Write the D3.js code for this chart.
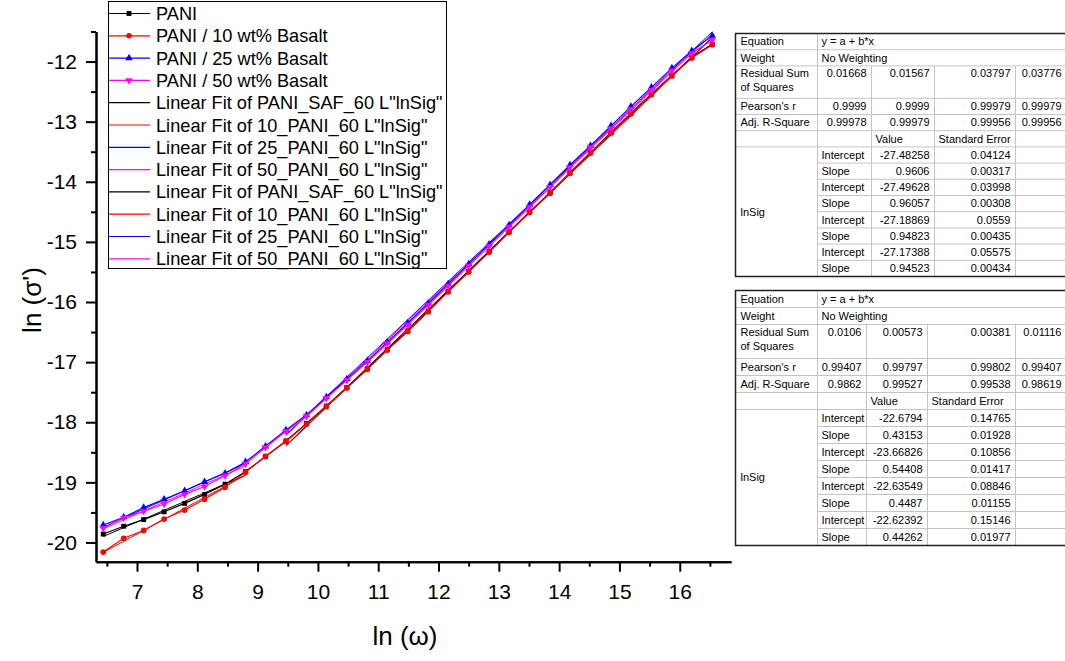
<!DOCTYPE html>
<html>
<head>
<meta charset="utf-8">
<script src="https://cdn.jsdelivr.net/npm/d3@7"></script>
<style>
  body { margin: 0; background: #fff; }
  svg { font-family: "Liberation Sans", Arial, sans-serif; display: block; }
</style>
</head>
<body>
<div id="dataviz"></div>
<script>
// ln(omega) of every measured point
const lnOmega = [6.44, 6.78, 7.11, 7.45, 7.79, 8.12, 8.46, 8.80, 9.13, 9.47, 9.81, 10.14, 10.48, 10.82, 11.15,
  11.49, 11.83, 12.16, 12.50, 12.84, 13.17, 13.51, 13.85, 14.18, 14.52, 14.86, 15.19, 15.53, 15.87, 16.20, 16.54];

// ln(sigma') per sample
const pani = [-19.86, -19.73, -19.62, -19.49, -19.35, -19.20, -19.03, -18.82, -18.57, -18.31, -18.02, -17.73, -17.42,
  -17.11, -16.79, -16.48, -16.15, -15.82, -15.49, -15.16, -14.83, -14.50, -14.18, -13.85, -13.51, -13.18, -12.86,
  -12.54, -12.23, -11.93, -11.71];
const basalt10 = [-20.16, -19.93, -19.80, -19.61, -19.46, -19.28, -19.08, -18.83, -18.57, -18.32, -18.03, -17.74, -17.43,
  -17.12, -16.80, -16.49, -16.16, -15.83, -15.50, -15.17, -14.84, -14.51, -14.19, -13.86, -13.52, -13.19, -12.87,
  -12.55, -12.24, -11.94, -11.72];
const basalt25 = [-19.71, -19.58, -19.42, -19.28, -19.14, -18.99, -18.85, -18.66, -18.40, -18.13, -17.88, -17.58, -17.28,
  -16.98, -16.67, -16.35, -16.02, -15.70, -15.37, -15.04, -14.72, -14.38, -14.05, -13.72, -13.40, -13.07, -12.75,
  -12.43, -12.11, -11.82, -11.57];
const basalt50 = [-19.76, -19.59, -19.48, -19.36, -19.20, -19.07, -18.89, -18.69, -18.42, -18.15, -17.90, -17.60, -17.30,
  -17.00, -16.69, -16.38, -16.05, -15.73, -15.40, -15.07, -14.75, -14.42, -14.09, -13.76, -13.43, -13.11, -12.79,
  -12.47, -12.15, -11.86, -11.64];

const seriesNames = ["PANI", "PANI / 10 wt% Basalt", "PANI / 25 wt% Basalt", "PANI / 50 wt% Basalt"];
const fitNames = ['Linear Fit of PANI_SAF_60 L"lnSig"', 'Linear Fit of 10_PANI_60 L"lnSig"',
  'Linear Fit of 25_PANI_60 L"lnSig"', 'Linear Fit of 50_PANI_60 L"lnSig"'];

const xTicks = [7, 8, 9, 10, 11, 12, 13, 14, 15, 16];
const xMinor = [6.5, 7.5, 8.5, 9.5, 10.5, 11.5, 12.5, 13.5, 14.5, 15.5, 16.5];
const yTicks = [-20, -19, -18, -17, -16, -15, -14, -13, -12];
const yMinor = [-19.5, -18.5, -17.5, -16.5, -15.5, -14.5, -13.5, -12.5, -11.5];

// fit tables (high frequency fit first, low frequency fit second)
const hiResidual = ["0.01668", "0.01567", "0.03797", "0.03776"];
const hiPearson = ["0.9999", "0.9999", "0.99979", "0.99979"];
const hiAdjR = ["0.99978", "0.99979", "0.99956", "0.99956"];
const hiIntercept = ["-27.48258", "-27.49628", "-27.18869", "-27.17388"];
const hiInterceptErr = ["0.04124", "0.03998", "0.0559", "0.05575"];
const hiSlope = ["0.9606", "0.96057", "0.94823", "0.94523"];
const hiSlopeErr = ["0.00317", "0.00308", "0.00435", "0.00434"];
const hiRange = [9.47, 16.54];

const loResidual = ["0.0106", "0.00573", "0.00381", "0.01116"];
const loPearson = ["0.99407", "0.99797", "0.99802", "0.99407"];
const loAdjR = ["0.9862", "0.99527", "0.99538", "0.98619"];
const loIntercept = ["-22.6794", "-23.66826", "-22.63549", "-22.62392"];
const loInterceptErr = ["0.14765", "0.10856", "0.08846", "0.15146"];
const loSlope = ["0.43153", "0.54408", "0.4487", "0.44262"];
const loSlopeErr = ["0.01928", "0.01417", "0.01155", "0.01977"];
const loRange = [6.44, 8.80];

const colors = ["#000000", "#ff0000", "#0000ff", "#ff00ff"];
const symbols = [d3.symbolSquare, d3.symbolCircle, d3.symbolTriangle, d3.symbolTriangle];

var width = 1065, height = 661;

var svg = d3.select("#dataviz")
  .append("svg")
    .attr("width", width)
    .attr("height", height);

var x = d3.scaleLinear().domain([6.32, 16.85]).range([96, 731]);
var y = d3.scaleLinear().domain([-20.32, -11.5]).range([561.7, 31.5]);

// axes
function styleAxis(g) {
  g.select(".domain").attr("stroke", "#000").attr("stroke-width", 2);
  g.selectAll(".tick line").attr("stroke", "#000").attr("stroke-width", 2);
  g.selectAll(".tick text").attr("fill", "#000").style("font-size", "21px")
    .style("font-family", '"Liberation Sans", Arial, sans-serif');
}

svg.append("g")
  .attr("transform", "translate(0," + y.range()[0] + ")")
  .call(d3.axisBottom(x).tickValues(xMinor).tickSize(5).tickSizeOuter(0).tickFormat(""))
  .call(styleAxis);
svg.append("g")
  .attr("transform", "translate(0," + y.range()[0] + ")")
  .call(d3.axisBottom(x).tickValues(xTicks).tickSize(10).tickSizeOuter(0).tickPadding(12).tickFormat(d3.format("d")))
  .call(styleAxis);

svg.append("g")
  .attr("transform", "translate(" + x.range()[0] + ",0)")
  .call(d3.axisLeft(y).tickValues(yMinor).tickSize(5).tickSizeOuter(0).tickFormat(""))
  .call(styleAxis);
svg.append("g")
  .attr("transform", "translate(" + x.range()[0] + ",0)")
  .call(d3.axisLeft(y).tickValues(yTicks).tickSize(10).tickSizeOuter(0).tickPadding(9)
    .tickFormat(function(d) { return d < 0 ? "-" + Math.abs(d) : d; }))
  .call(styleAxis);

svg.append("text")
  .attr("x", 405)
  .attr("y", 645)
  .attr("text-anchor", "middle")
  .style("font-size", "26px")
  .text("ln (ω)");

svg.append("text")
  .attr("transform", "translate(41,300) rotate(-90)")
  .attr("text-anchor", "middle")
  .style("font-size", "26px")
  .text("ln (σ')");

// fit lines
var fitLine = d3.line().x(function(d) { return x(d[0]); }).y(function(d) { return y(d[1]); });
[[loIntercept, loSlope, loRange], [hiIntercept, hiSlope, hiRange]].forEach(function(fit) {
  colors.forEach(function(c, i) {
    var a = +fit[0][i], b = +fit[1][i];
    svg.append("path")
      .datum(fit[2].map(function(v) { return [v, a + b * v]; }))
      .attr("fill", "none")
      .attr("stroke", c)
      .attr("stroke-width", 1)
      .attr("d", fitLine);
  });
});

// data
var allSeries = [pani, basalt10, basalt25, basalt50];
var line = d3.line().x(function(d) { return x(d[0]); }).y(function(d) { return y(d[1]); });

allSeries.forEach(function(vals, i) {
  var pts = lnOmega.map(function(v, j) { return [v, vals[j]]; });
  svg.append("path")
    .datum(pts)
    .attr("fill", "none")
    .attr("stroke", colors[i])
    .attr("stroke-width", 1.2)
    .attr("d", line);
  svg.append("g")
    .selectAll("path")
    .data(pts)
    .enter()
    .append("path")
      .attr("transform", function(d) {
        return "translate(" + x(d[0]) + "," + y(d[1]) + ")" + (i === 3 ? " rotate(180)" : "");
      })
      .attr("d", d3.symbol().type(symbols[i]).size(i === 1 ? 26 : 24))
      .attr("fill", colors[i]);
});

// legend
var legend = svg.append("g");
legend.append("rect")
  .attr("x", 108.5).attr("y", 1.5)
  .attr("width", 338).attr("height", 267)
  .attr("fill", "#fff")
  .attr("stroke", "#000")
  .attr("stroke-width", 1);

var legendItems = seriesNames.map(function(n, i) { return { name: n, color: colors[i], sym: i }; })
  .concat(fitNames.map(function(n, i) { return { name: n, color: colors[i], sym: -1 }; }))
  .concat(fitNames.map(function(n, i) { return { name: n, color: colors[i], sym: -1 }; }));

legendItems.forEach(function(d, i) {
  var ly = 13.5 + i * 22.3;
  legend.append("line")
    .attr("x1", 109).attr("x2", 150)
    .attr("y1", ly).attr("y2", ly)
    .attr("stroke", d.color).attr("stroke-width", 1.2);
  if (d.sym >= 0) {
    legend.append("path")
      .attr("transform", "translate(129," + ly + ")" + (d.sym === 3 ? " rotate(180)" : ""))
      .attr("d", d3.symbol().type(symbols[d.sym]).size(24))
      .attr("fill", d.color);
  }
  legend.append("text")
    .attr("x", 156).attr("y", ly)
    .attr("dy", "0.36em")
    .style("font-size", "18.2px")
    .text(d.name);
});

// fit result tables
function drawTable(top, rowH, cols, t) {
  var g = svg.append("g").style("font-size", "11px");
  var left = cols[0], right = cols[cols.length - 1];
  // row tops in units: Eq, Weight, Residual(2), Pearson, Adj, header, 8 rows
  var units = [0, 1, 2, 4, 5, 6, 7, 8, 9, 10, 11, 12, 13, 14, 15];
  var ry = units.map(function(u) { return top + u * rowH; });
  var bottom = ry[ry.length - 1];

  g.append("rect")
    .attr("x", left).attr("y", top)
    .attr("width", right - left).attr("height", bottom - top)
    .attr("fill", "#fff");

  var grid = "#c4c4c4";
  // horizontal lines
  ry.slice(1, -1).forEach(function(yy, k) {
    var x0 = (k >= 6) ? cols[1] : left;
    g.append("line").attr("x1", x0).attr("x2", right).attr("y1", yy).attr("y2", yy)
      .attr("stroke", grid).attr("stroke-width", 1);
  });
  // vertical lines
  g.append("line").attr("x1", cols[1]).attr("x2", cols[1]).attr("y1", top).attr("y2", bottom)
    .attr("stroke", grid);
  cols.slice(2, -1).forEach(function(cx) {
    g.append("line").attr("x1", cx).attr("x2", cx).attr("y1", ry[2]).attr("y2", bottom)
      .attr("stroke", grid);
  });
  // outer border
  g.append("path")
    .attr("d", "M" + right + "," + top + "H" + left + "V" + bottom + "H" + right)
    .attr("fill", "none").attr("stroke", "#222").attr("stroke-width", 1.5);

  function txt(xx, yy, s, anchor) {
    g.append("text").attr("x", xx).attr("y", yy).attr("dy", "0.35em")
      .attr("text-anchor", anchor || "start").text(s);
  }
  function mid(k) { return (ry[k] + ry[k + 1]) / 2; }

  txt(left + 5, mid(0), "Equation");
  txt(cols[1] + 4, mid(0), "y = a + b*x");
  txt(left + 5, mid(1), "Weight");
  txt(cols[1] + 4, mid(1), "No Weighting");
  txt(left + 5, ry[2] + 7.5, "Residual Sum");
  txt(left + 5, ry[2] + 21.5, "of Squares");
  txt(left + 5, mid(3), "Pearson's r");
  txt(left + 5, mid(4), "Adj. R-Square");
  [[t.residual, ry[2] + 7.5], [t.pearson, mid(3)], [t.adjR, mid(4)]].forEach(function(row) {
    row[0].forEach(function(v, i) { txt(cols[i + 2] - 5, row[1], v, "end"); });
  });
  txt(cols[2] + 4, mid(5), "Value");
  txt(cols[3] + 4, mid(5), "Standard Error");
  txt(left + 5, (ry[6] + bottom) / 2, "lnSig");
  for (var i = 0; i < 4; i++) {
    var k1 = 6 + i * 2, k2 = 7 + i * 2;
    txt(cols[1] + 4, mid(k1), "Intercept");
    txt(cols[3] - 5, mid(k1), t.intercept[i], "end");
    txt(cols[4] - 5, mid(k1), t.interceptErr[i], "end");
    txt(cols[1] + 4, mid(k2), "Slope");
    txt(cols[3] - 5, mid(k2), t.slope[i], "end");
    txt(cols[4] - 5, mid(k2), t.slopeErr[i], "end");
  }
}

drawTable(33.5, 16.2, [735.5, 817.5, 871.5, 934.5, 1015.5, 1066.5], {
  residual: hiResidual, pearson: hiPearson, adjR: hiAdjR,
  intercept: hiIntercept, interceptErr: hiInterceptErr, slope: hiSlope, slopeErr: hiSlopeErr
});
drawTable(290.5, 17.0, [735.5, 817.5, 866.5, 927.5, 1015.5, 1066.5], {
  residual: loResidual, pearson: loPearson, adjR: loAdjR,
  intercept: loIntercept, interceptErr: loInterceptErr, slope: loSlope, slopeErr: loSlopeErr
});
</script>
</body>
</html>
